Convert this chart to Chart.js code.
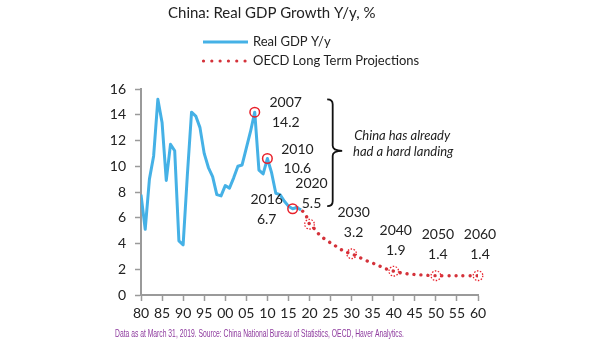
<!DOCTYPE html>
<html>
<head>
<meta charset="utf-8">
<script src="https://cdn.jsdelivr.net/npm/chart.js@4/dist/chart.umd.min.js"></script>
<style>
  html, body { margin: 0; padding: 0; background: #fff; }
  #wrap { width: 605px; height: 341px; position: relative; }
</style>
</head>
<body>
<div id="wrap"><canvas id="gdpChart"></canvas></div>
<script>
// ---- data ----
const gdpYears = [1980, 1981, 1982, 1983, 1984, 1985, 1986, 1987, 1988, 1989,
                  1990, 1991, 1992, 1993, 1994, 1995, 1996, 1997, 1998, 1999,
                  2000, 2001, 2002, 2003, 2004, 2005, 2006, 2007, 2008, 2009,
                  2010, 2011, 2012, 2013, 2014, 2015, 2016, 2017, 2018];
const gdpValues = [7.8, 5.1, 9.0, 10.8, 15.2, 13.4, 8.9, 11.7, 11.2, 4.2,
                   3.9, 9.3, 14.2, 13.9, 13.0, 11.0, 9.9, 9.2, 7.8, 7.7,
                   8.5, 8.3, 9.1, 10.0, 10.1, 11.4, 12.7, 14.2, 9.7, 9.4,
                   10.6, 9.5, 7.9, 7.8, 7.3, 6.9, 6.7, 6.8, 6.6];

const projYears  = [2017, 2018, 2019, 2020, 2021, 2022, 2023, 2024, 2025, 2026, 2027, 2028, 2029,
                    2030, 2032, 2034, 2036, 2038, 2040, 2042, 2044, 2046, 2048, 2050, 2055, 2060];
const projValues = [6.8, 6.6, 6.3, 5.5, 5.2, 4.8, 4.5, 4.25, 4.05, 3.85, 3.6, 3.45, 3.3,
                    3.2, 2.9, 2.6, 2.35, 2.05, 1.85, 1.7, 1.62, 1.57, 1.53, 1.5, 1.5, 1.5];

const xTicks = [1980, 1985, 1990, 1995, 2000, 2005, 2010, 2015, 2020, 2025, 2030, 2035, 2040, 2045, 2050, 2055, 2060];
const yTicks = [0, 2, 4, 6, 8, 10, 12, 14, 16];

const seriesNames = ['Real GDP Y/y', 'OECD Long Term Projections'];
const titleText = 'China: Real GDP Growth Y/y, %';
const footerText = 'Data as at March 31, 2019. Source: China National Bureau of Statistics, OECD, Haver Analytics.';
const noteLines = ['China has already', 'had a hard landing'];

// callouts: year label + value label, anchored on the series
const histCallYears  = [2007, 2010, 2016];
const histCallLabels = ['14.2', '10.6', '6.7'];
const projCallYears  = [2020, 2030, 2040, 2050, 2060];
const projCallLabels = ['5.5', '3.2', '1.9', '1.4', '1.4'];

const FONT = 'Lato, "Open Sans", sans-serif';
const BLUE = '#45b1e6';
const RED = '#d4323a';
const RING = '#e8202a';

const overlay = {
  id: 'overlay',
  afterDatasetsDraw(chart) {
    const { ctx, scales: { x, y } } = chart;
    ctx.save();
    // solid rings on history
    ctx.strokeStyle = RING;
    ctx.lineWidth = 1.5;
    histCallYears.forEach(yr => {
      const v = gdpValues[gdpYears.indexOf(yr)];
      ctx.beginPath();
      ctx.arc(x.getPixelForValue(yr), y.getPixelForValue(v), 4.8, 0, Math.PI * 2);
      ctx.stroke();
    });
    // dotted rings on projections
    ctx.setLineDash([1.5, 1.5]);
    ctx.lineWidth = 1.3;
    projCallYears.forEach(yr => {
      const v = projValues[projYears.indexOf(yr)];
      ctx.beginPath();
      ctx.arc(x.getPixelForValue(yr), y.getPixelForValue(v), 4.8, 0, Math.PI * 2);
      ctx.stroke();
    });
    ctx.restore();
  },
  afterDraw(chart) {
    const { ctx, scales: { x, y } } = chart;
    ctx.save();
    ctx.textBaseline = 'middle';

    // title
    ctx.fillStyle = '#222';
    ctx.font = '15px ' + FONT;
    ctx.textAlign = 'left';
    ctx.fillText(titleText, 168, 13);

    // legend
    ctx.strokeStyle = BLUE;
    ctx.lineWidth = 3;
    ctx.beginPath(); ctx.moveTo(203, 42); ctx.lineTo(248, 42); ctx.stroke();
    ctx.strokeStyle = RED;
    ctx.lineWidth = 3.2;
    ctx.lineCap = 'round';
    ctx.setLineDash([0.01, 8.3]);
    ctx.beginPath(); ctx.moveTo(203.5, 61); ctx.lineTo(246, 61); ctx.stroke();
    ctx.setLineDash([]);
    ctx.lineCap = 'butt';
    ctx.fillStyle = '#222';
    ctx.font = '13px ' + FONT;
    ctx.fillText(seriesNames[0], 253, 42);
    ctx.fillText(seriesNames[1], 253, 61);

    // callouts
    ctx.textAlign = 'center';
    ctx.font = '14px ' + FONT;
    const histOff = [[31, -10, 10], [30, -9, 10], [-26, -9, 11]];
    histCallYears.forEach((yr, i) => {
      const px = x.getPixelForValue(yr), py = y.getPixelForValue(gdpValues[gdpYears.indexOf(yr)]);
      const [dx, d1, d2] = histOff[i];
      ctx.fillText(String(yr), px + dx, py + d1);
      ctx.fillText(histCallLabels[i], px + dx, py + d2);
    });
    projCallYears.forEach((yr, i) => {
      const px = x.getPixelForValue(yr), py = y.getPixelForValue(projValues[projYears.indexOf(yr)]);
      ctx.fillText(String(yr), px + 2, py - 41);
      ctx.fillText(projCallLabels[i], px + 2, py - 21);
    });

    // brace
    const bl = x.getPixelForValue(2024.2);
    const bt = y.getPixelForValue(15.2), bb = y.getPixelForValue(6.9), bm = y.getPixelForValue(11.2);
    const stem = bl + 5.5, tip = bl + 15, r = 5;
    ctx.strokeStyle = '#111';
    ctx.lineWidth = 1.8;
    ctx.beginPath();
    ctx.moveTo(bl, bt);
    ctx.quadraticCurveTo(stem, bt, stem, bt + r);
    ctx.lineTo(stem, bm - r);
    ctx.quadraticCurveTo(stem, bm, tip, bm);
    ctx.quadraticCurveTo(stem, bm, stem, bm + r);
    ctx.lineTo(stem, bb - r);
    ctx.quadraticCurveTo(stem, bb, bl, bb);
    ctx.stroke();

    // note
    ctx.font = 'italic 13px ' + FONT;
    ctx.fillStyle = '#222';
    ctx.fillText(noteLines[0], tip + 60, bm - 15);
    ctx.fillText(noteLines[1], tip + 61, bm + 1);

    // footer
    ctx.textAlign = 'left';
    ctx.font = '10.5px "Liberation Sans Narrow", "Liberation Sans", sans-serif';
    ctx.fillStyle = '#8e3a9e';
    ctx.fillText(footerText, 115, 334, 289);
    ctx.restore();
  }
};

const axisCommon = {
  grid: { display: true, drawOnChartArea: false, drawTicks: true, tickLength: 6, tickColor: '#9a9a9a', tickWidth: 1.5 },
  border: { display: true, color: '#9a9a9a', width: 2 },
};

new Chart(document.getElementById('gdpChart').getContext('2d'), {
  type: 'line',
  data: {
    datasets: [
      {
        label: seriesNames[0],
        data: gdpYears.map((yr, i) => ({ x: yr, y: gdpValues[i] })),
        borderColor: BLUE,
        borderWidth: 3,
        pointRadius: 0,
        tension: 0,
        borderJoinStyle: 'round'
      },
      {
        label: seriesNames[1],
        data: projYears.map((yr, i) => ({ x: yr, y: projValues[i] })),
        borderColor: RED,
        borderWidth: 3.4,
        borderDash: [0.01, 7],
        borderCapStyle: 'round',
        pointRadius: 0,
        tension: 0.3
      }
    ]
  },
  options: {
    responsive: true,
    maintainAspectRatio: false,
    animation: false,
    devicePixelRatio: 1,
    layout: { padding: { left: 0, right: 127, top: 89, bottom: 0 } },
    plugins: { legend: { display: false }, tooltip: { enabled: false } },
    scales: {
      x: {
        type: 'linear',
        min: 1980, max: 2060,
        afterBuildTicks: s => { s.ticks = xTicks.map(v => ({ value: v })); },
        ticks: {
          callback: v => String(v % 100).padStart(2, '0'),
          font: { family: FONT, size: 14 },
          color: '#222',
          padding: 4,
          maxRotation: 0,
          autoSkip: false
        },
        afterFit: s => { s.height = 46; },
        ...axisCommon
      },
      y: {
        min: 0, max: 16,
        afterBuildTicks: s => { s.ticks = yTicks.map(v => ({ value: v })); },
        ticks: { font: { family: FONT, size: 14 }, color: '#222', padding: 9 },
        afterFit: s => { s.width = 141; },
        ...axisCommon
      }
    }
  },
  plugins: [overlay]
});
</script>
</body>
</html>
